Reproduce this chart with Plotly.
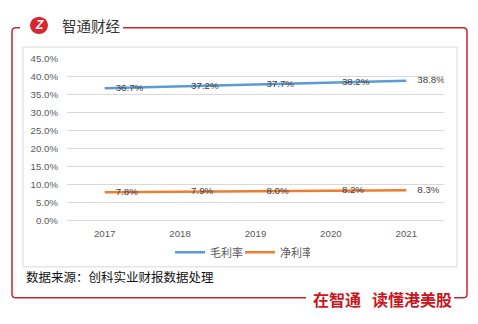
import plotly.graph_objects as go

years = ["2017", "2018", "2019", "2020", "2021"]
gross_margin = [36.7, 37.2, 37.7, 38.2, 38.8]
net_margin = [7.8, 7.9, 8.0, 8.2, 8.3]
series_names = ["毛利率", "净利率"]
source_text = "数据来源：创科实业财报数据处理"
brand_text = "智通财经"
slogan_a = "在智通"
slogan_b = "读懂港美股"

W, H = 478, 324
RED = "#C9242F"
CJK = "Noto Sans CJK SC"
LAT = "Liberation Sans, Arial, sans-serif"


def X(px):
    return px / W


def Y(py):
    return 1 - py / H


fig = go.Figure()
for vals, name, color in [(gross_margin, series_names[0], "#5B9BD5"),
                          (net_margin, series_names[1], "#ED7D31")]:
    fig.add_trace(go.Scatter(
        x=years, y=vals, name=name, mode="lines+markers+text",
        line=dict(color=color, width=2.5),
        marker=dict(size=16, color="rgba(0,0,0,0)", line=dict(width=0)),
        texttemplate="%{y:.1f}%", textposition="middle right",
        textfont=dict(size=9.7, color="#404040", family=LAT),
    ))

# Red frame (two open paths with rounded corners)
left_path = (
    f"M{X(20)},{Y(22.5)} L{X(16)},{Y(22.5)} Q{X(12)},{Y(22.5)} {X(12)},{Y(26.5)} "
    f"L{X(12)},{Y(298)} Q{X(12)},{Y(302)} {X(16)},{Y(302)} L{X(306)},{Y(302)}"
)
right_path = (
    f"M{X(454)},{Y(302)} L{X(463)},{Y(302)} Q{X(467)},{Y(302)} {X(467)},{Y(298)} "
    f"L{X(467)},{Y(26.5)} Q{X(467)},{Y(22.5)} {X(463)},{Y(22.5)} L{X(123)},{Y(22.5)}"
)
shapes = [
    dict(type="path", xref="paper", yref="paper", path=left_path,
         line=dict(color=RED, width=1.5)),
    dict(type="path", xref="paper", yref="paper", path=right_path,
         line=dict(color=RED, width=1.5)),
    dict(type="rect", xref="paper", yref="paper", x0=X(23), x1=X(457), y0=Y(270), y1=Y(42.5),
         line=dict(color="#D9D9D9", width=1), layer="below"),
    dict(type="circle", xref="paper", yref="paper", x0=X(30), x1=X(48), y0=Y(29), y1=Y(11),
         fillcolor="#D7262E", line=dict(color="#D7262E", width=0)),
]

annotations = [
    dict(text="<b><i>Z</i></b>", x=X(39), y=Y(20), xref="paper", yref="paper",
         showarrow=False, font=dict(size=12, color="white", family=LAT),
         xanchor="center", yanchor="middle"),
    dict(text=brand_text, x=X(60), y=Y(20), xref="paper", yref="paper",
         showarrow=False, font=dict(size=14.5, color="#333333", family=CJK),
         xanchor="left", yanchor="middle"),
    dict(text=source_text, x=X(24), y=Y(280), xref="paper", yref="paper",
         showarrow=False, font=dict(size=12.5, color="#111111", family=CJK),
         xanchor="left", yanchor="middle"),
    dict(text=f"<b>{slogan_a}</b>", x=X(336.5), y=Y(303.5), xref="paper", yref="paper",
         showarrow=False, font=dict(size=16, color="#C8161D", family=CJK),
         xanchor="center", yanchor="middle"),
    dict(text=f"<b>{slogan_b}</b>", x=X(412), y=Y(303.5), xref="paper", yref="paper",
         showarrow=False, font=dict(size=16, color="#C8161D", family=CJK),
         xanchor="center", yanchor="middle"),
]

fig.update_layout(
    width=W, height=H,
    margin=dict(l=0, r=0, t=0, b=0),
    paper_bgcolor="white", plot_bgcolor="white",
    showlegend=True,
    legend=dict(orientation="h", x=X(240), xanchor="center", y=Y(255), yanchor="middle",
                font=dict(size=11, color="#595959", family=CJK),
                bgcolor="rgba(0,0,0,0)", itemwidth=30, tracegroupgap=0,
                entrywidth=25, entrywidthmode="pixels"),
    xaxis=dict(domain=[X(67), X(444)], type="category", range=[-0.5, 4.5],
               showgrid=False, showline=False, ticks="", zeroline=False,
               tickfont=dict(size=9.7, color="#595959", family=LAT),
               ticklabelstandoff=6),
    yaxis=dict(domain=[Y(221.7), Y(54.3)], range=[0, 45], dtick=5, tick0=0,
               tickformat=".1f", ticksuffix="%", showgrid=True, gridcolor="#D9D9D9",
               gridwidth=1, zeroline=True, zerolinecolor="#D9D9D9", zerolinewidth=1,
               showline=False, ticks="",
               tickfont=dict(size=9.7, color="#595959", family=LAT),
               ticklabelstandoff=8),
    shapes=shapes,
    annotations=annotations,
)

fig.write_html("out.html")
